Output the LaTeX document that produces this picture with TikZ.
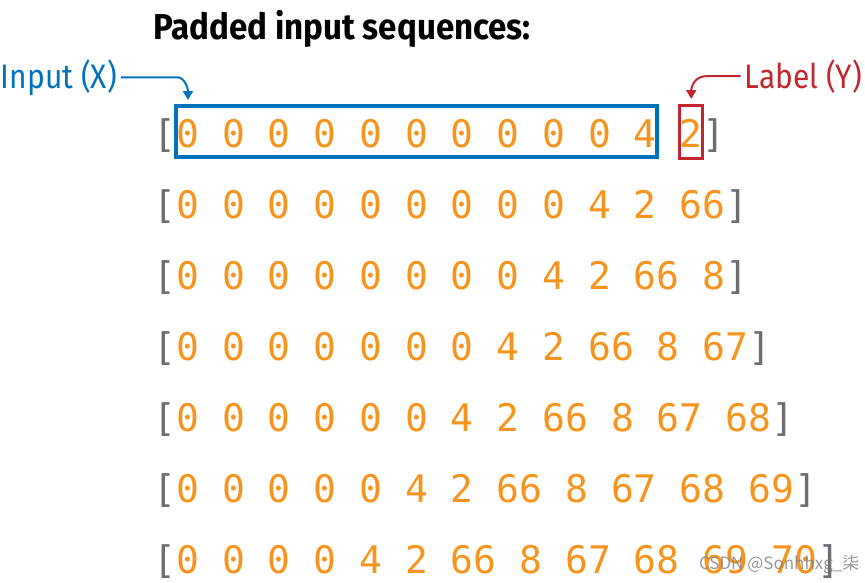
\documentclass[tikz,border=0pt]{standalone}
\usepackage{fontspec}
\setmainfont{Fira Sans}[FakeStretch=0.88]
\newfontfamily\titlefont{Fira Sans}[FakeStretch=0.92]
\newfontfamily\seqfont{DejaVu Sans Mono}[WordSpace={1,0,0}]
\newfontfamily\cjkfont{Noto Sans CJK SC}
\usetikzlibrary{arrows.meta,positioning}
\definecolor{xblue}{HTML}{0072BC}
\definecolor{yred}{HTML}{C1272D}
\definecolor{digit}{HTML}{F7941D}
\definecolor{brk}{HTML}{6D6E71}
\newcommand{\seq}[1]{{\color{brk}[}#1{\color{brk}]}}
\newcommand{\pitch}{22.876pt}
\begin{document}
\begin{tikzpicture}[x=1pt,y=-1pt]
    \useasboundingbox (0,0) rectangle (865,582);
    \tikzstyle{every node}=[inner sep=0, outer sep=0]
    \tikzstyle{row}=[anchor=base west, text=digit, font=\seqfont\fontsize{38pt}{40pt}\selectfont]
    \tikzstyle{callout}=[line width=2pt, -{Triangle[length=9pt,width=10pt]}]
    \node[anchor=base, font=\titlefont\bfseries\fontsize{36pt}{38pt}\selectfont] (title) at (342,39) {Padded input sequences:};
    \node[anchor=base west, text=xblue, font=\fontsize{34pt}{36pt}\selectfont] (inputx) at (1,88) {Input (X)};
    \node[anchor=base east, text=yred, font=\fontsize{34pt}{36pt}\selectfont] (labely) at (862,88) {Label (Y)};
    % first row, split for the two boxes
    \node[row] (lb1) at (153.6,147) {\color{brk}[};
    \node[row, draw=xblue, line width=4pt, text height=41pt, text depth=10pt] (inp) at (lb1.base east) {0 0 0 0 0 0 0 0 0 0 4};
    \node[row, draw=yred, line width=3pt, text height=42pt, text depth=11pt] (lab) at ([xshift=\pitch]inp.base east) {2};
    \node[row] (rb1) at (lab.base east) {\color{brk}]};
    \foreach \i/\s in {2/{0 0 0 0 0 0 0 0 0 4 2 66},
                       3/{0 0 0 0 0 0 0 0 4 2 66 8},
                       4/{0 0 0 0 0 0 0 4 2 66 8 67},
                       5/{0 0 0 0 0 0 4 2 66 8 67 68},
                       6/{0 0 0 0 0 4 2 66 8 67 68 69},
                       7/{0 0 0 0 4 2 66 8 67 68 69 70}}
        \node[row] (row\i) at (153.6,{76+71*\i}) {\seq{\s}};
    \draw[callout, xblue] ([xshift=4pt]inputx.east) -- ++(56,0) .. controls +(8,0) and +(0,-12) .. ([xshift=11.5pt,yshift=6pt]inp.north west);
    \draw[callout, yred] ([xshift=-4pt]labely.west) -- ++(-34,0) .. controls +(-12,0) and +(0,-12) .. ([yshift=6pt]lab.north);
    \node[anchor=base west, text=gray, opacity=0.8, font=\cjkfont\fontsize{17pt}{18pt}\selectfont] (mark) at (699,569) {CSDN @Sonhhxg\_柒};
\end{tikzpicture}
\end{document}
